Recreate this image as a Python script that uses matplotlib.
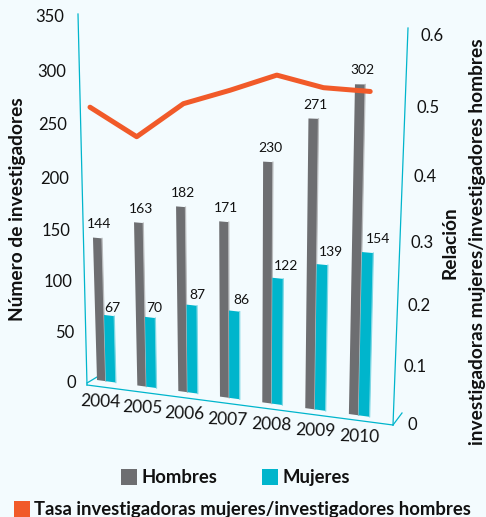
"""Investigadores por sexo 2004-2010, con la perspectiva del grafico original."""
import matplotlib
matplotlib.use("Agg")
import matplotlib.pyplot as plt
from matplotlib.patches import Polygon, Rectangle

plt.rcParams['font.family'] = ['Lato', 'DejaVu Sans']

# Datos
anios = ['2004', '2005', '2006', '2007', '2008', '2009', '2010']
hombres = [144, 163, 182, 171, 230, 271, 302]
mujeres = [67, 70, 87, 86, 122, 139, 154]
tasa = [0.465, 0.42, 0.478, 0.503, 0.530, 0.513, 0.510]
ticks_izq = [0, 50, 100, 150, 200, 250, 300, 350]
ticks_der = [0, 0.1, 0.2, 0.3, 0.4, 0.5, 0.6]

GRIS = '#6D6E71'
GRIS_LADO = '#B9BBBD'
TURQUESA = '#00B5CC'
TURQUESA_LADO = '#7FD8E4'
NARANJA = '#F15A29'
FONDO = '#F3FBFE'
NEGRO = '#111111'


# Proyeccion: posicion de categoria + valor -> pixel de la imagen
def pie_x(u):
    return 97 + 40 * u + 0.33 * u ** 2


def punto(u, valor):
    x = pie_x(u)
    t = (x - 97) / 251
    base = 380 + 0.135 * (x - 97)
    # la escala vertical crece hacia la derecha y con la altura
    escala = 0.985 + 0.037 * t + (0.00003 + 0.0002 * t) * valor
    inclinacion = -0.028 + 0.048 * t
    return x + inclinacion * valor, base - escala * valor


def barra(ax, u0, u1, valor, color, lado):
    esquinas = [punto(u0, 0), punto(u1, 0), punto(u1, valor), punto(u0, valor)]
    ax.add_patch(Polygon(esquinas, closed=True, facecolor=color, edgecolor='none', zorder=3))
    ax.plot([esquinas[1][0], esquinas[2][0]], [esquinas[1][1], esquinas[2][1]],
            color=lado, lw=0.9, zorder=3)


def punto_tasa(i, r):
    x = 90 + 46.7 * i
    base = 385 + 0.131 * (x - 88)
    k = 598 + 50 * (x - 90) / 280
    return x, base - k * r


fig = plt.figure(figsize=(4.86, 5.17), dpi=100, facecolor=FONDO)
ax = fig.add_axes([0, 0, 1, 1])
ax.set_xlim(0, 486)
ax.set_ylim(517, 0)
ax.axis('off')

# Marco turquesa
marco = [((78, 14), (87, 385)), ((87, 385), (393, 425)), ((393, 425), (408, 28)),
         ((87, 383), (97, 377)), ((393, 425), (402, 413))]
for a, b in marco:
    ax.plot([a[0], b[0]], [a[1], b[1]], color=TURQUESA, lw=0.9, zorder=1)

# Barras y etiquetas
for i, anio in enumerate(anios):
    barra(ax, i, i + 0.22, hombres[i], GRIS, GRIS_LADO)
    barra(ax, i + 0.22, i + 0.47, mujeres[i], TURQUESA, TURQUESA_LADO)

    x, y = punto(i + 0.11, hombres[i])
    ax.text(x + 2, y - 14, str(hombres[i]), ha='center', va='center', fontsize=10, color=NEGRO, zorder=5)
    x, y = punto(i + 0.345, mujeres[i])
    ax.text(x + 3 + 1.2 * i, y - 8 - i, str(mujeres[i]), ha='center', va='center', fontsize=10, color=NEGRO, zorder=5)

    ax.text(100 + 42 * i + 0.2 * i ** 2, 402 + 5.8 * i, anio, ha='center', va='center',
            fontsize=12.5, color=NEGRO, rotation=-2)

# Linea de la tasa
xs, ys = zip(*[punto_tasa(i, r) for i, r in enumerate(tasa)])
ax.plot(xs, ys, color=NARANJA, lw=3.6, solid_capstyle='round', solid_joinstyle='round', zorder=4)

# Ticks de los dos ejes
for v in ticks_izq:
    y = 383 - 0.99 * v - 0.00016 * v ** 2
    x = 76 - 12 * v / 350
    ax.text(x, y, str(v), ha='right', va='center', fontsize=12, color=NEGRO)
for r in ticks_der:
    y = 425 - 566 * r - 137 * r ** 2
    x = 412 + 33 * r
    etiqueta = '0' if r == 0 else f'{r:.1f}'
    ax.text(x, y, etiqueta, ha='center', va='center', fontsize=12, color=NEGRO)

# Titulos de los ejes
ax.text(18, 209, 'Número de investigadores', rotation=90, ha='center', va='center',
        fontsize=13.8, fontweight='bold', color=NEGRO)
ax.text(450, 243, 'Relación', rotation=90, ha='center', va='center',
        fontsize=13.8, fontweight='bold', color=NEGRO)
ax.text(477, 242, 'investigadoras mujeres/investigadores hombres', rotation=90, ha='center', va='center',
        fontsize=13.8, fontweight='bold', color=NEGRO)

# Leyenda
leyenda = [(121, 469, GRIS, 'Hombres'), (262, 469, TURQUESA, 'Mujeres'),
           (14, 501, NARANJA, 'Tasa investigadoras mujeres/investigadores hombres')]
for x, y, color, texto in leyenda:
    ax.add_patch(Rectangle((x, y), 16, 16, facecolor=color, edgecolor='none', clip_on=False))
    ax.text(x + 20, y + 8.5, texto, ha='left', va='center', fontsize=13.3, fontweight='bold', color=NEGRO)

fig.savefig('out.png', dpi=100, facecolor=FONDO)
